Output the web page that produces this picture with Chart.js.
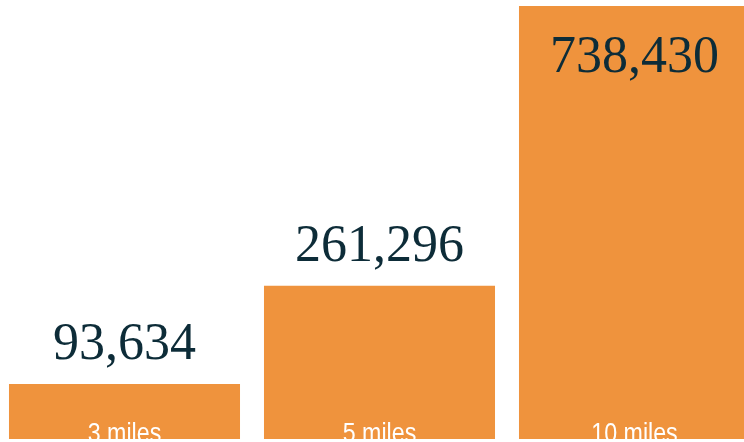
<!DOCTYPE html>
<html>
<head>
<meta charset="utf-8">
<script src="https://cdn.jsdelivr.net/npm/chart.js@4"></script>
<style>
  html, body { margin: 0; padding: 0; background: #fff; overflow: hidden; }
  #wrap { position: absolute; left: -3px; top: 0; width: 765px; height: 442px; }
</style>
</head>
<body>
<div id="wrap"><canvas id="radius-chart" width="765" height="442"></canvas></div>
<script>
// Population within radius
const radiusLabels = ['3 miles', '5 miles', '10 miles'];
const populationValues = [93634, 261296, 738430];

const barColor = '#ef933d';
const valueColor = '#0d2c38';

// Draws the big numbers above (or inside) each bar and the radius label at the bar foot
const barLabels = {
  id: 'barLabels',
  afterDatasetsDraw(chart) {
    const ctx = chart.ctx;
    const meta = chart.getDatasetMeta(0);
    const area = chart.chartArea;
    ctx.save();
    ctx.textAlign = 'center';
    ctx.textBaseline = 'alphabetic';
    meta.data.forEach((bar, i) => {
      const txt = populationValues[i].toLocaleString('en-US');
      ctx.font = '52px "Liberation Serif", "Times New Roman", serif';
      ctx.fillStyle = valueColor;
      let y = bar.y - 25;
      if (y - 40 < area.top) y = bar.y + 66; // no room above, put it inside
      ctx.fillText(txt, bar.x, y);

      // condensed look for the radius label
      ctx.save();
      ctx.font = '27px "Liberation Sans Narrow", "Arial Narrow", sans-serif';
      ctx.fillStyle = '#ffffff';
      ctx.translate(bar.x, area.bottom + 3);
      ctx.scale(0.86, 1);
      ctx.fillText(radiusLabels[i], 0, 0);
      ctx.restore();
    });
    ctx.restore();
  }
};

const ctx = document.getElementById('radius-chart').getContext('2d');
new Chart(ctx, {
  type: 'bar',
  data: {
    labels: radiusLabels,
    datasets: [{
      data: populationValues,
      backgroundColor: barColor,
      borderWidth: 0,
      categoryPercentage: 1,
      barPercentage: 0.906
    }]
  },
  options: {
    responsive: false,
    animation: false,
    devicePixelRatio: 1,
    layout: { padding: { top: 6, bottom: 3, left: 0, right: 0 } },
    plugins: { legend: { display: false }, tooltip: { enabled: false } },
    scales: {
      x: { display: false },
      y: { display: false, min: 0, max: 738430 }
    }
  },
  plugins: [barLabels]
});
</script>
</body>
</html>
